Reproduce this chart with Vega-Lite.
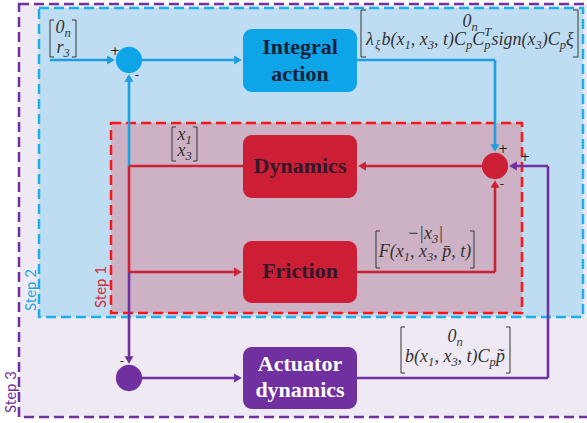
{
  "$schema": "https://vega.github.io/schema/vega-lite/v6.json",
  "width": 587,
  "height": 423,
  "padding": 0,
  "autosize": {"type": "fit", "contains": "padding"},
  "background": "white",
  "config": {"view": {"stroke": null}},
  "datasets": {
    "regions": [
      {"step": "3", "x": 19, "x2": 600, "y": 4, "y2": 417},
      {"step": "2", "x": 39, "x2": 583, "y": 8, "y2": 317},
      {"step": "1", "x": 111, "x2": 522, "y": 123, "y2": 313}
    ],
    "connectors": [
      {"step": "2", "x": 50, "y": 60, "x2": 112, "y2": 60},
      {"step": "2", "x": 142, "y": 60, "x2": 238, "y2": 60},
      {"step": "2", "x": 357, "y": 60, "x2": 495, "y2": 60},
      {"step": "2", "x": 495, "y": 60, "x2": 495, "y2": 148},
      {"step": "2", "x": 129, "y": 166, "x2": 129, "y2": 76},
      {"step": "1", "x": 482, "y": 166, "x2": 362, "y2": 166},
      {"step": "1", "x": 243, "y": 166, "x2": 129, "y2": 166},
      {"step": "1", "x": 129, "y": 166, "x2": 129, "y2": 272},
      {"step": "1", "x": 129, "y": 272, "x2": 237, "y2": 272},
      {"step": "1", "x": 357, "y": 272, "x2": 495, "y2": 272},
      {"step": "1", "x": 495, "y": 272, "x2": 495, "y2": 184},
      {"step": "3", "x": 129, "y": 272, "x2": 129, "y2": 360},
      {"step": "3", "x": 142, "y": 378, "x2": 237, "y2": 378},
      {"step": "3", "x": 357, "y": 378, "x2": 548, "y2": 378},
      {"step": "3", "x": 548, "y": 378, "x2": 548, "y2": 166},
      {"step": "3", "x": 548, "y": 166, "x2": 514, "y2": 166}
    ],
    "arrows": [
      {"step": "2", "x": 111, "y": 60, "dir": "right"},
      {"step": "2", "x": 238, "y": 60, "dir": "right"},
      {"step": "2", "x": 495, "y": 148, "dir": "down"},
      {"step": "2", "x": 129, "y": 78, "dir": "up"},
      {"step": "1", "x": 362, "y": 166, "dir": "left"},
      {"step": "1", "x": 238, "y": 272, "dir": "right"},
      {"step": "1", "x": 495, "y": 184, "dir": "up"},
      {"step": "3", "x": 129, "y": 360, "dir": "down"},
      {"step": "3", "x": 238, "y": 378, "dir": "right"},
      {"step": "3", "x": 513, "y": 166, "dir": "left"}
    ],
    "blocks": [
      {"step": "2", "x": 243, "x2": 357, "y": 29, "y2": 92},
      {"step": "1", "x": 243, "x2": 357, "y": 135, "y2": 198},
      {"step": "1", "x": 243, "x2": 357, "y": 241, "y2": 303},
      {"step": "3", "x": 243, "x2": 357, "y": 347, "y2": 409}
    ],
    "junctions": [
      {"step": "2", "x": 129, "y": 60},
      {"step": "1", "x": 495, "y": 166},
      {"step": "3", "x": 129, "y": 378}
    ],
    "blockLabels": [
      {"step": "2", "label": "Integral", "x": 300, "y": 47},
      {"step": "2", "label": "action", "x": 300, "y": 74},
      {"step": "1", "label": "Dynamics", "x": 300, "y": 166},
      {"step": "1", "label": "Friction", "x": 300, "y": 271},
      {"step": "3", "label": "Actuator", "x": 300, "y": 364},
      {"step": "3", "label": "dynamics", "x": 300, "y": 390}
    ],
    "brackets": [
      {"x": 50, "y": 20, "x2": 50, "y2": 57}, {"x": 50, "y": 20, "x2": 54, "y2": 20}, {"x": 50, "y": 57, "x2": 54, "y2": 57},
      {"x": 76, "y": 20, "x2": 76, "y2": 57}, {"x": 72, "y": 20, "x2": 76, "y2": 20}, {"x": 72, "y": 57, "x2": 76, "y2": 57},
      {"x": 172, "y": 127, "x2": 172, "y2": 161}, {"x": 172, "y": 127, "x2": 176, "y2": 127}, {"x": 172, "y": 161, "x2": 176, "y2": 161},
      {"x": 197, "y": 127, "x2": 197, "y2": 161}, {"x": 193, "y": 127, "x2": 197, "y2": 127}, {"x": 193, "y": 161, "x2": 197, "y2": 161},
      {"x": 361, "y": 10, "x2": 361, "y2": 57}, {"x": 361, "y": 10, "x2": 366, "y2": 10}, {"x": 361, "y": 57, "x2": 366, "y2": 57},
      {"x": 578, "y": 10, "x2": 578, "y2": 57}, {"x": 573, "y": 10, "x2": 578, "y2": 10}, {"x": 573, "y": 57, "x2": 578, "y2": 57},
      {"x": 376, "y": 231, "x2": 376, "y2": 268}, {"x": 376, "y": 231, "x2": 380, "y2": 231}, {"x": 376, "y": 268, "x2": 380, "y2": 268},
      {"x": 474, "y": 231, "x2": 474, "y2": 268}, {"x": 470, "y": 231, "x2": 474, "y2": 231}, {"x": 470, "y": 268, "x2": 474, "y2": 268},
      {"x": 401, "y": 327, "x2": 401, "y2": 373}, {"x": 401, "y": 327, "x2": 405, "y2": 327}, {"x": 401, "y": 373, "x2": 405, "y2": 373},
      {"x": 510, "y": 327, "x2": 510, "y2": 373}, {"x": 506, "y": 327, "x2": 510, "y2": 327}, {"x": 506, "y": 373, "x2": 510, "y2": 373}
    ],
    "mathMain": [
      {"t": "0", "x": 55.4, "y": 33},
      {"t": "r", "x": 56.4, "y": 53},
      {"t": "x", "x": 177.4, "y": 140},
      {"t": "x", "x": 177.4, "y": 156},
      {"t": "0", "x": 462.4, "y": 27},
      {"t": "λ", "x": 366, "y": 45},
      {"t": "b(x", "x": 381.5, "y": 45},
      {"t": ", x", "x": 410.8, "y": 45},
      {"t": ", t)C", "x": 434, "y": 45},
      {"t": "C", "x": 472.3, "y": 45},
      {"t": "sign(x", "x": 491.5, "y": 45},
      {"t": ")C", "x": 541.8, "y": 45},
      {"t": "ξ", "x": 566, "y": 45},
      {"t": "−|x", "x": 406.9, "y": 239},
      {"t": "|", "x": 438.2, "y": 239},
      {"t": "F(x", "x": 378.8, "y": 257},
      {"t": ", x", "x": 410, "y": 257},
      {"t": ", p̄, t)", "x": 433.3, "y": 257},
      {"t": "0", "x": 447.4, "y": 342},
      {"t": "b(x", "x": 405.1, "y": 362},
      {"t": ", x", "x": 434.4, "y": 362},
      {"t": ", t)C", "x": 457.6, "y": 362},
      {"t": "p̃", "x": 495.9, "y": 362}
    ],
    "mathSub": [
      {"t": "n", "x": 64.4, "y": 37},
      {"t": "3", "x": 63.4, "y": 57},
      {"t": "1", "x": 185.4, "y": 144},
      {"t": "3", "x": 185.4, "y": 160},
      {"t": "n", "x": 471.4, "y": 31},
      {"t": "ξ", "x": 375, "y": 49},
      {"t": "1", "x": 404.5, "y": 49},
      {"t": "3", "x": 427.8, "y": 49},
      {"t": "p", "x": 466, "y": 49},
      {"t": "p", "x": 484.3, "y": 49},
      {"t": "T", "x": 484.3, "y": 36},
      {"t": "3", "x": 535.5, "y": 49},
      {"t": "p", "x": 559.8, "y": 49},
      {"t": "3", "x": 432, "y": 243},
      {"t": "1", "x": 403.8, "y": 261},
      {"t": "3", "x": 427, "y": 261},
      {"t": "n", "x": 456.4, "y": 346},
      {"t": "1", "x": 428.1, "y": 366},
      {"t": "3", "x": 451.4, "y": 366},
      {"t": "p", "x": 489.6, "y": 366}
    ],
    "signs": [
      {"t": "+", "x": 115, "y": 51},
      {"t": "-", "x": 137, "y": 75},
      {"t": "+", "x": 503, "y": 149},
      {"t": "-", "x": 502, "y": 184},
      {"t": "+", "x": 525, "y": 157},
      {"t": "-", "x": 122, "y": 361}
    ],
    "stepLabels": [
      {"step": "1", "label": "Step 1", "x": 101, "y": 287},
      {"step": "2", "label": "Step 2", "x": 31, "y": 290},
      {"step": "3", "label": "Step 3", "x": 11, "y": 392}
    ]
  },
  "resolve": {"scale": {"color": "independent", "fill": "independent", "stroke": "independent", "shape": "independent"}},
  "layer": [
    {
      "data": {"name": "regions"},
      "mark": {"type": "rect", "clip": true, "strokeWidth": 2.5, "strokeDash": [10, 5]},
      "encoding": {
        "x": {"field": "x", "type": "quantitative", "scale": {"domain": [0, 587], "nice": false, "zero": false}, "axis": null},
        "x2": {"field": "x2"},
        "y": {"field": "y", "type": "quantitative", "scale": {"domain": [0, 423], "nice": false, "zero": false, "reverse": true}, "axis": null},
        "y2": {"field": "y2"},
        "fill": {"field": "step", "type": "nominal", "scale": {"domain": ["1", "2", "3"], "range": ["#CDB1C4", "#BFDDF2", "#EFE9F4"]}, "legend": null},
        "stroke": {"field": "step", "type": "nominal", "scale": {"domain": ["1", "2", "3"], "range": ["#FF1414", "#1CB0EA", "#7030A0"]}, "legend": null}
      }
    },
    {
      "data": {"name": "connectors"},
      "mark": {"type": "rule", "strokeWidth": 2.6},
      "encoding": {
        "x": {"field": "x", "type": "quantitative", "scale": {"domain": [0, 587], "nice": false, "zero": false}, "axis": null},
        "x2": {"field": "x2"},
        "y": {"field": "y", "type": "quantitative", "scale": {"domain": [0, 423], "nice": false, "zero": false, "reverse": true}, "axis": null},
        "y2": {"field": "y2"},
        "color": {"field": "step", "type": "nominal", "scale": {"domain": ["1", "2", "3"], "range": ["#CC2233", "#1E9FE0", "#7030A0"]}, "legend": null}
      }
    },
    {
      "data": {"name": "arrows"},
      "mark": {"type": "point", "filled": true, "size": 80, "opacity": 1, "strokeWidth": 0},
      "encoding": {
        "x": {"field": "x", "type": "quantitative", "scale": {"domain": [0, 587], "nice": false, "zero": false}, "axis": null},
        "y": {"field": "y", "type": "quantitative", "scale": {"domain": [0, 423], "nice": false, "zero": false, "reverse": true}, "axis": null},
        "shape": {"field": "dir", "type": "nominal", "scale": {"domain": ["right", "left", "up", "down"], "range": ["triangle-right", "triangle-left", "triangle-up", "triangle-down"]}, "legend": null},
        "color": {"field": "step", "type": "nominal", "scale": {"domain": ["1", "2", "3"], "range": ["#CC2233", "#1E9FE0", "#7030A0"]}, "legend": null}
      }
    },
    {
      "data": {"name": "blocks"},
      "mark": {"type": "rect", "cornerRadius": 9},
      "encoding": {
        "x": {"field": "x", "type": "quantitative", "scale": {"domain": [0, 587], "nice": false, "zero": false}, "axis": null},
        "x2": {"field": "x2"},
        "y": {"field": "y", "type": "quantitative", "scale": {"domain": [0, 423], "nice": false, "zero": false, "reverse": true}, "axis": null},
        "y2": {"field": "y2"},
        "fill": {"field": "step", "type": "nominal", "scale": {"domain": ["1", "2", "3"], "range": ["#CC1E35", "#0EA5E8", "#7030A0"]}, "legend": null}
      }
    },
    {
      "data": {"name": "junctions"},
      "mark": {"type": "point", "shape": "circle", "filled": true, "size": 690, "opacity": 1, "strokeWidth": 0},
      "encoding": {
        "x": {"field": "x", "type": "quantitative", "scale": {"domain": [0, 587], "nice": false, "zero": false}, "axis": null},
        "y": {"field": "y", "type": "quantitative", "scale": {"domain": [0, 423], "nice": false, "zero": false, "reverse": true}, "axis": null},
        "color": {"field": "step", "type": "nominal", "scale": {"domain": ["1", "2", "3"], "range": ["#CC1E35", "#0EA5E8", "#7030A0"]}, "legend": null}
      }
    },
    {
      "data": {"name": "blockLabels"},
      "mark": {"type": "text", "font": "Liberation Serif", "fontWeight": "bold", "fontSize": 22, "align": "center", "baseline": "middle"},
      "encoding": {
        "x": {"field": "x", "type": "quantitative", "scale": {"domain": [0, 587], "nice": false, "zero": false}, "axis": null},
        "y": {"field": "y", "type": "quantitative", "scale": {"domain": [0, 423], "nice": false, "zero": false, "reverse": true}, "axis": null},
        "text": {"field": "label"},
        "color": {"field": "step", "type": "nominal", "scale": {"domain": ["1", "2", "3"], "range": ["#33182A", "#15203A", "#FFFFFF"]}, "legend": null}
      }
    },
    {
      "data": {"name": "brackets"},
      "mark": {"type": "rule", "strokeWidth": 1.1, "color": "#444444"},
      "encoding": {
        "x": {"field": "x", "type": "quantitative", "scale": {"domain": [0, 587], "nice": false, "zero": false}, "axis": null},
        "x2": {"field": "x2"},
        "y": {"field": "y", "type": "quantitative", "scale": {"domain": [0, 423], "nice": false, "zero": false, "reverse": true}, "axis": null},
        "y2": {"field": "y2"}
      }
    },
    {
      "data": {"name": "mathMain"},
      "mark": {"type": "text", "font": "Liberation Serif", "fontStyle": "italic", "fontSize": 18, "color": "#333333", "align": "left", "baseline": "alphabetic"},
      "encoding": {
        "x": {"field": "x", "type": "quantitative", "scale": {"domain": [0, 587], "nice": false, "zero": false}, "axis": null},
        "y": {"field": "y", "type": "quantitative", "scale": {"domain": [0, 423], "nice": false, "zero": false, "reverse": true}, "axis": null},
        "text": {"field": "t"}
      }
    },
    {
      "data": {"name": "mathSub"},
      "mark": {"type": "text", "font": "Liberation Serif", "fontStyle": "italic", "fontSize": 12.5, "color": "#333333", "align": "left", "baseline": "alphabetic"},
      "encoding": {
        "x": {"field": "x", "type": "quantitative", "scale": {"domain": [0, 587], "nice": false, "zero": false}, "axis": null},
        "y": {"field": "y", "type": "quantitative", "scale": {"domain": [0, 423], "nice": false, "zero": false, "reverse": true}, "axis": null},
        "text": {"field": "t"}
      }
    },
    {
      "data": {"name": "signs"},
      "mark": {"type": "text", "font": "DejaVu Sans", "fontSize": 12, "color": "#222222", "align": "center", "baseline": "middle"},
      "encoding": {
        "x": {"field": "x", "type": "quantitative", "scale": {"domain": [0, 587], "nice": false, "zero": false}, "axis": null},
        "y": {"field": "y", "type": "quantitative", "scale": {"domain": [0, 423], "nice": false, "zero": false, "reverse": true}, "axis": null},
        "text": {"field": "t"}
      }
    },
    {
      "data": {"name": "stepLabels"},
      "mark": {"type": "text", "font": "Lato", "fontSize": 15, "angle": 270, "align": "center", "baseline": "middle"},
      "encoding": {
        "x": {"field": "x", "type": "quantitative", "scale": {"domain": [0, 587], "nice": false, "zero": false}, "axis": null},
        "y": {"field": "y", "type": "quantitative", "scale": {"domain": [0, 423], "nice": false, "zero": false, "reverse": true}, "axis": null},
        "text": {"field": "label"},
        "color": {"field": "step", "type": "nominal", "scale": {"domain": ["1", "2", "3"], "range": ["#D42A3C", "#1CA8E6", "#7030A0"]}, "legend": null}
      }
    }
  ]
}
